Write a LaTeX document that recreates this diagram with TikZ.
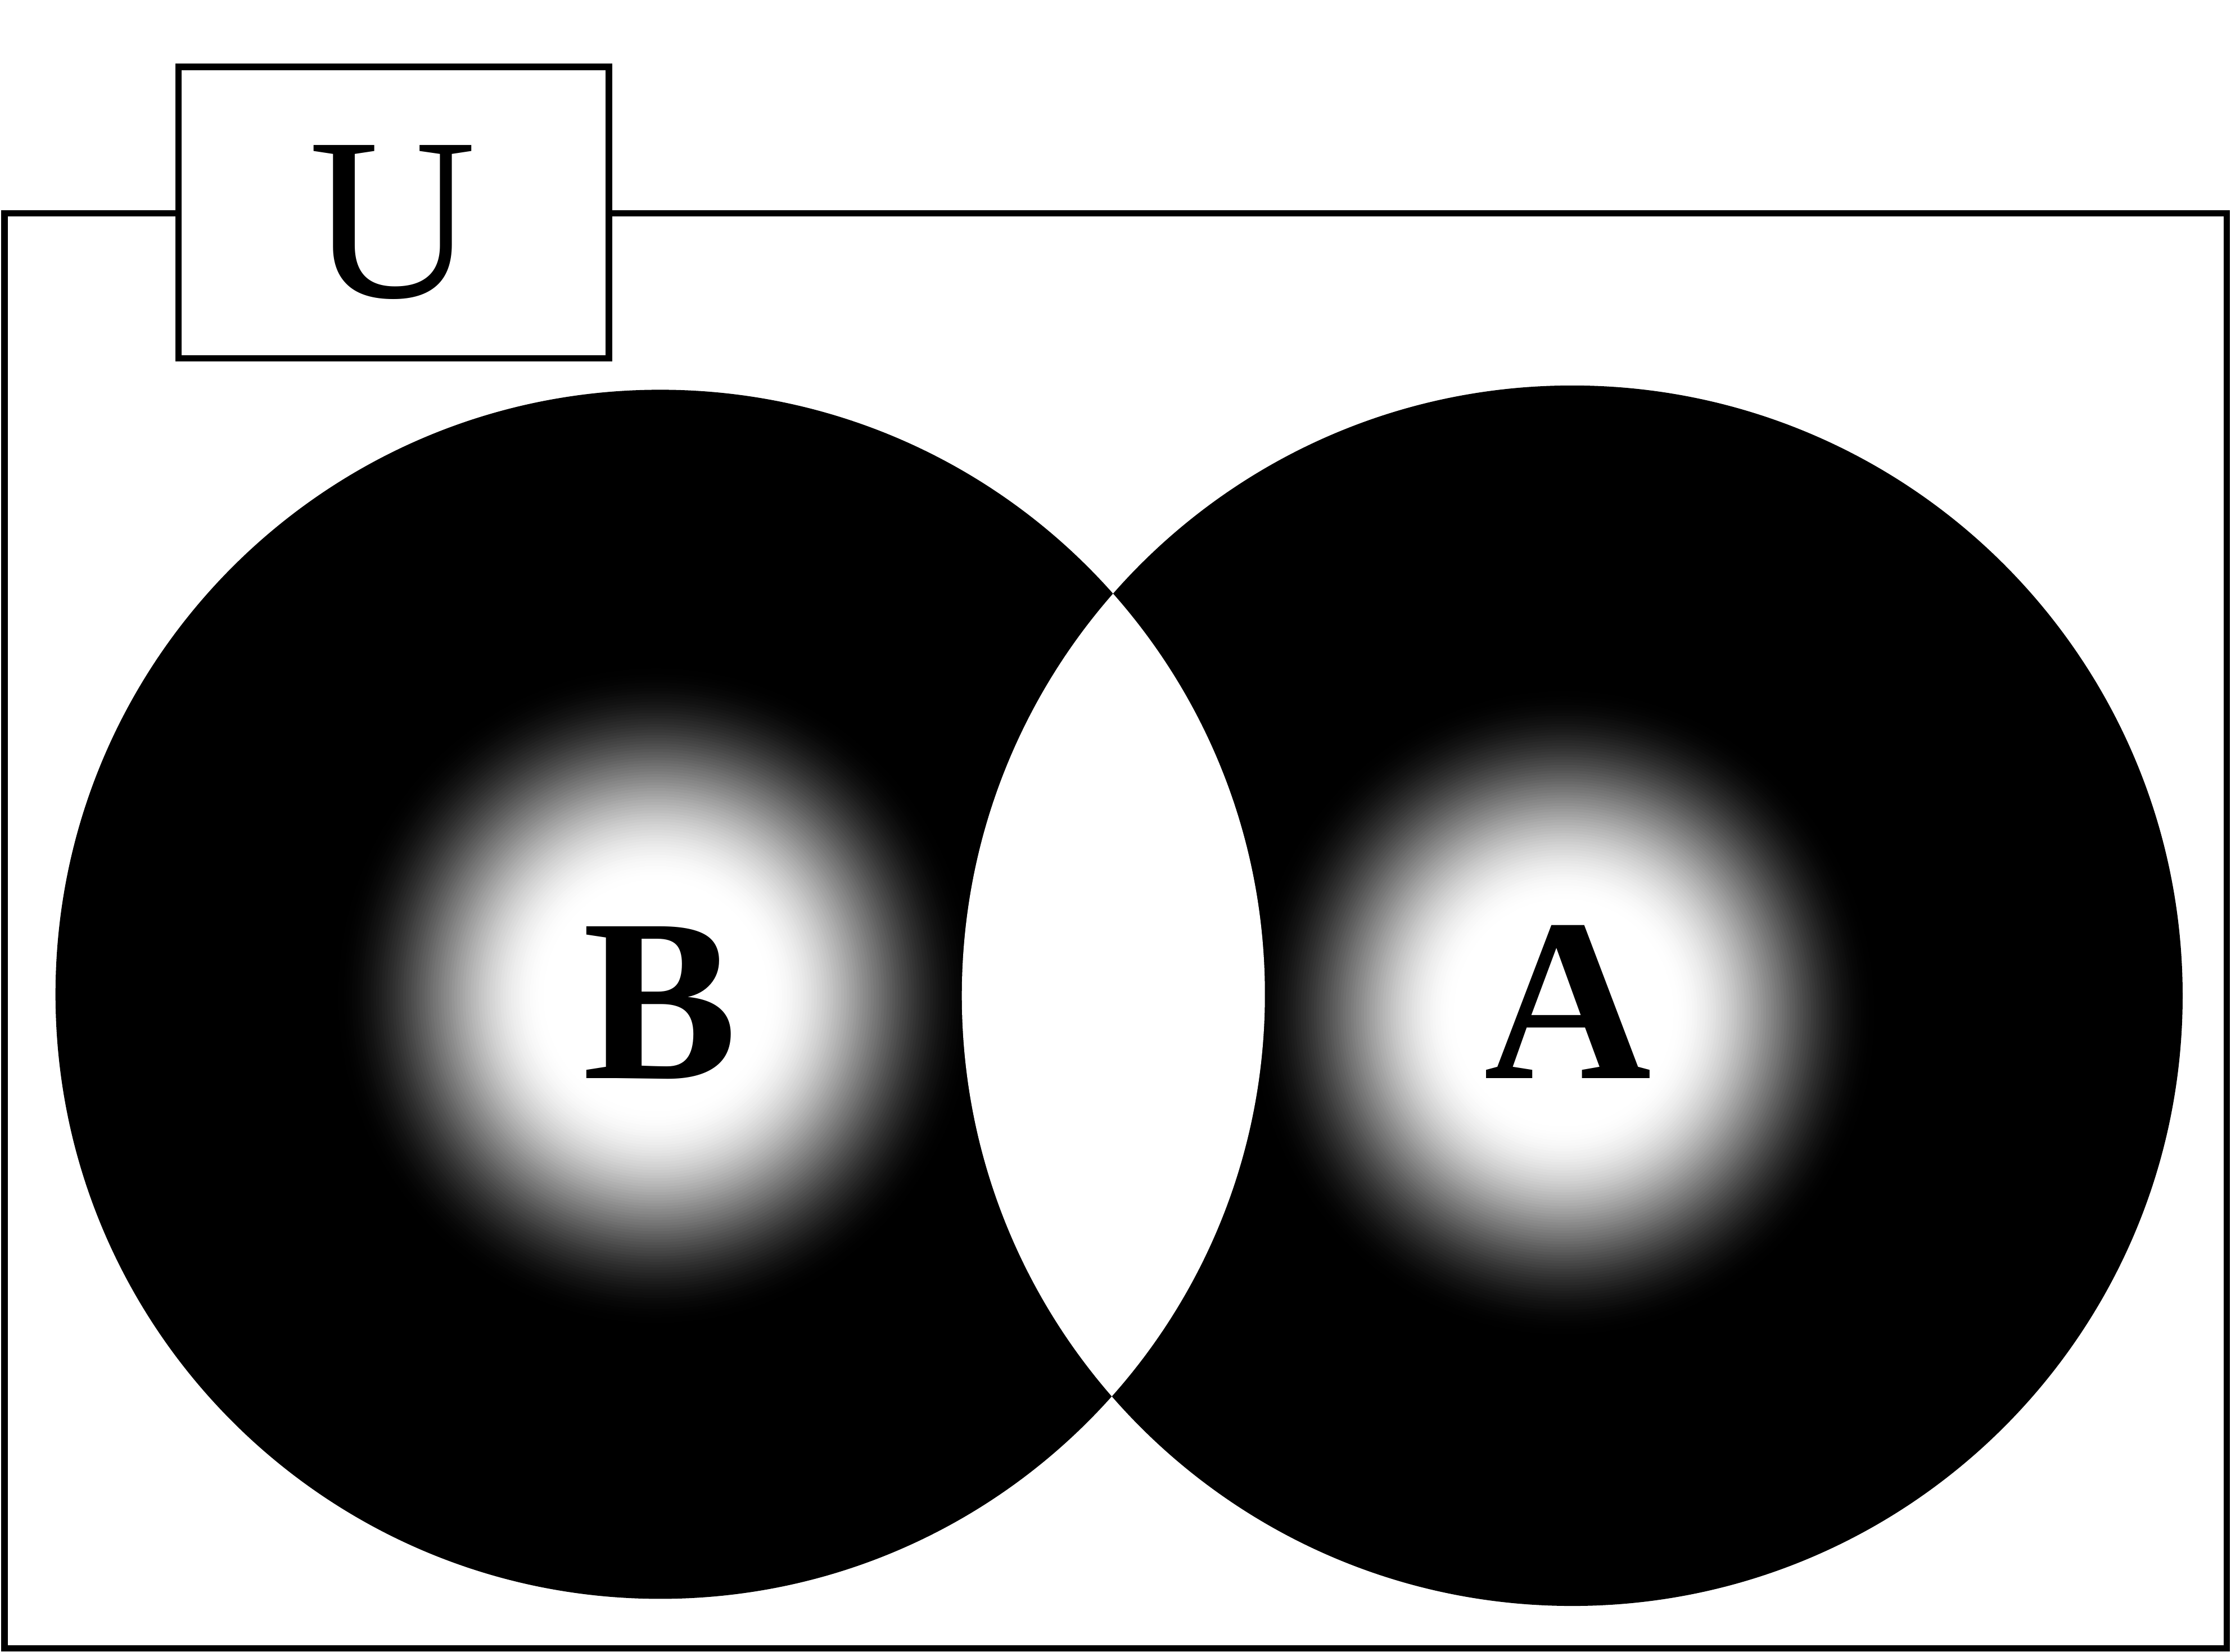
\documentclass[tikz,border=0pt]{standalone}
\usepackage{fontspec}
\setmainfont{Liberation Serif}
\tikzset{
  frame/.style={draw=black, line width=4.5pt},
  setlabel/.style={font=\fontsize{163}{190}\selectfont\bfseries, anchor=base, inner sep=0pt},
  unilabel/.style={font=\fontsize{163}{190}\selectfont, anchor=base, inner sep=0pt}
}
\begin{document}
\begin{tikzpicture}[x=1pt,y=-1pt]
\useasboundingbox (0,0) rectangle (1568,1161);
% universe frame
\draw[frame] (3.2,150) rectangle (1565,1158.7);
% circle centres
\coordinate (cB) at (464,699);
\coordinate (cA) at (1105,700);
\coordinate (gB) at (461,700);
\coordinate (gA) at (1099,712);
% black discs
\fill[black] (cB) circle[radius=425pt];
\fill[black] (cA) circle[radius=429pt];
% glowing centres (concentric rings, black outside to white inside)
\begin{scope}
  \clip (cB) circle[radius=425pt];
  \foreach \k in {0,...,79} {
    \pgfmathsetmacro\t{1-\k/79*0.66}
    \pgfmathsetmacro\s{(\t-0.34)/0.66}
    \pgfmathsetmacro\p{100*\s*\s*(3-2*\s)}
    \fill[black!\p] (gB) ellipse[x radius=\t*227pt, y radius=\t*234pt];
  }
\end{scope}
\begin{scope}
  \clip (cA) circle[radius=429pt];
  \foreach \k in {0,...,79} {
    \pgfmathsetmacro\t{1-\k/79*0.66}
    \pgfmathsetmacro\s{(\t-0.34)/0.66}
    \pgfmathsetmacro\p{100*\s*\s*(3-2*\s)}
    \fill[black!\p] (gA) ellipse[x radius=\t*222pt, y radius=\t*230pt];
  }
\end{scope}
% intersection left white
\begin{scope}
  \clip (cB) circle[radius=425pt];
  \fill[white] (cA) circle[radius=429pt];
\end{scope}
% U box
\draw[frame, fill=white] (125.5,47) rectangle (428,252);
\node[unilabel] (U) at (276,209) {U};
\node[setlabel] (B) at (464,758) {B};
\node[setlabel] (A) at (1102,758) {A};
\end{tikzpicture}
\end{document}
